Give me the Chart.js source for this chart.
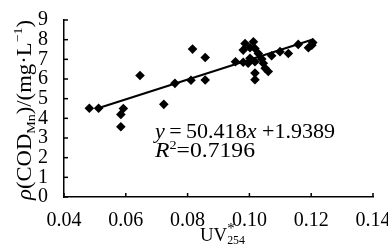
<!DOCTYPE html>
<html>
<head>
<meta charset="utf-8">
<script src="https://cdn.jsdelivr.net/npm/chart.js@4/dist/chart.umd.min.js"></script>
<style>
  html, body { margin: 0; padding: 0; background: #fff; }
  #wrap { width: 388px; height: 247px; position: relative; }
</style>
</head>
<body>
<div id="wrap"><canvas id="chart"></canvas></div>
<script>
// measured points, UV254* vs COD_Mn (mg/L)
var uvX  = [0.0482, 0.0512, 0.0584, 0.0584, 0.0592, 0.0646, 0.0723, 0.0759, 0.0811, 0.0816,
            0.0857, 0.0857, 0.0955, 0.0986, 0.1013, 0.0980, 0.1002, 0.1018, 0.1029, 0.1002,
            0.0980, 0.0996, 0.1018, 0.1045, 0.1051, 0.1061, 0.1018, 0.1018, 0.1099, 0.1126,
            0.1158, 0.1191, 0.1202, 0.1205, 0.1040, 0.1072];
var codY = [4.51, 4.51, 3.57, 4.20, 4.50, 6.18, 4.71, 5.78, 5.94, 7.52,
            7.09, 5.95, 6.88, 7.80, 7.89, 7.47, 7.59, 7.55, 7.30, 7.05,
            6.85, 6.80, 6.88, 6.80, 6.55, 6.38, 6.30, 5.96, 7.39, 7.30,
            7.76, 7.59, 7.72, 7.85, 7.02, 7.18];

// trend line ends
var fitX = [0.051, 0.1205];
var fitY = [4.51, 8.01];

var xTickVals = [0.04, 0.06, 0.08, 0.10, 0.12, 0.14];
var yTickVals = [0, 1, 2, 3, 4, 5, 6, 7, 8, 9];

var serif = '"Liberation Serif", "Times New Roman", serif';

function pts(xs, ys) {
    var out = [];
    for (var i = 0; i < xs.length; i++) out.push({x: xs[i], y: ys[i]});
    return out;
}

// draws a run of text pieces (sub/superscripts, italics), squeezed/stretched to a target length
function richText(ctx, parts, x, y, size, target, rot) {
    ctx.save();
    var w = 0;
    parts.forEach(function (p) {
        ctx.font = (p.i ? 'italic ' : '') + (p.s || size) + 'px ' + serif;
        p.w = ctx.measureText(p.t).width;
        if (!p.stack) w += p.w;
    });
    ctx.translate(x, y);
    if (rot) ctx.rotate(rot);
    ctx.scale(target / w, 1);
    ctx.fillStyle = '#000';
    ctx.textBaseline = 'alphabetic';
    ctx.textAlign = 'left';
    var cx = 0;
    parts.forEach(function (p) {
        ctx.font = (p.i ? 'italic ' : '') + (p.s || size) + 'px ' + serif;
        ctx.fillText(p.t, cx, p.dy || 0);
        if (!p.stack) cx += p.w;
    });
    ctx.restore();
}

var decor = {
    id: 'decor',
    afterDraw: function (chart) {
        var ctx = chart.ctx, xs = chart.scales.x, ys = chart.scales.y;
        var a = chart.chartArea;
        ctx.save();
        ctx.strokeStyle = '#000';
        ctx.lineWidth = 1.5;
        xTickVals.forEach(function (v) {
            var px = xs.getPixelForValue(v);
            ctx.beginPath(); ctx.moveTo(px, a.bottom); ctx.lineTo(px, a.bottom - 4); ctx.stroke();
        });
        yTickVals.forEach(function (v) {
            var py = ys.getPixelForValue(v);
            ctx.beginPath(); ctx.moveTo(a.left, py); ctx.lineTo(a.left + 4, py); ctx.stroke();
        });
        ctx.restore();

        // regression text
        richText(ctx, [{t: 'y', i: true}, {t: '\u2009=\u200950.418'}, {t: 'x', i: true}, {t: ' +1.9389'}],
                 155, 138, 20, 180);
        richText(ctx, [{t: 'R', i: true}, {t: '2', s: 12, dy: -8}, {t: '=0.7196'}],
                 155, 157, 20, 100);

        // x title
        richText(ctx, [{t: 'UV'}, {t: '*', s: 15, dy: -8, stack: true}, {t: '254', s: 12, dy: 3}],
                 200, 241, 19, 45);

        // y title, rotated
        richText(ctx, [{t: '\u03c1', i: true}, {t: '(COD'}, {t: 'Mn', s: 13, dy: 4}, {t: ')/(mg\u00b7L'},
                       {t: '\u22121', s: 13, dy: -9}, {t: ')'}],
                 31, 200, 21, 180, -Math.PI / 2);
    }
};

new Chart(document.getElementById('chart'), {
    type: 'scatter',
    data: {
        datasets: [{
            data: pts(uvX, codY),
            pointStyle: 'rectRot',
            pointRadius: 4.8,
            backgroundColor: '#000',
            borderColor: '#000',
            borderWidth: 0
        }, {
            type: 'line',
            data: pts(fitX, fitY),
            borderColor: '#000',
            borderWidth: 2,
            pointRadius: 0,
            fill: false
        }]
    },
    options: {
        responsive: true,
        maintainAspectRatio: false,
        animation: false,
        layout: { padding: { top: 18, right: 15, left: 0, bottom: 0 } },
        plugins: { legend: { display: false }, tooltip: { enabled: false } },
        scales: {
            x: {
                type: 'linear',
                min: 0.04, max: 0.14,
                afterBuildTicks: function (s) { s.ticks = xTickVals.map(function (v) { return {value: v}; }); },
                afterFit: function (s) { s.height = 50; s.paddingRight = 0; s.paddingLeft = 0; },
                grid: { display: false },
                border: { display: true, color: '#000', width: 1.5 },
                ticks: {
                    color: '#000', padding: 4,
                    font: { family: serif, size: 20 },
                    maxRotation: 0, autoSkip: false,
                    callback: function (v) { return v.toFixed(2); }
                }
            },
            y: {
                min: 0, max: 9,
                afterBuildTicks: function (s) { s.ticks = yTickVals.map(function (v) { return {value: v}; }); },
                afterFit: function (s) { s.width = 64; },
                grid: { display: false },
                border: { display: true, color: '#000', width: 1.5 },
                ticks: {
                    color: '#000', padding: 8, autoSkip: false,
                    font: { family: serif, size: 20 }
                }
            }
        }
    },
    plugins: [decor]
});
</script>
</body>
</html>
